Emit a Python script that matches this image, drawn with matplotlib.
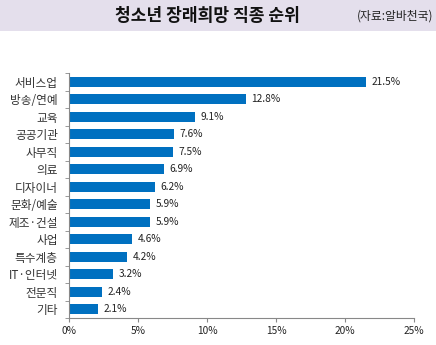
import matplotlib
matplotlib.use("Agg")
import matplotlib.pyplot as plt
from matplotlib.patches import Rectangle

plt.rcParams['font.family'] = ['Noto Sans CJK KR', 'DejaVu Sans']

# data
jobs = ["서비스업", "방송/연예", "교육", "공공기관", "사무직", "의료", "디자이너",
        "문화/예술", "제조·건설", "사업", "특수계층", "IT·인터넷", "전문직", "기타"]
shares = [21.5, 12.8, 9.1, 7.6, 7.5, 6.9, 6.2, 5.9, 5.9, 4.6, 4.2, 3.2, 2.4, 2.1]
xticks = [0, 5, 10, 15, 20, 25]

fig = plt.figure(figsize=(4.36, 3.45), dpi=100)

# title band
fig.patches.append(Rectangle((0, 1 - 31 / 345), 1, 31 / 345, transform=fig.transFigure,
                             facecolor="#E4DFEC", edgecolor="none", zorder=0))
fig.text(0.475, 0.953, "청소년 장래희망 직종 순위", ha="center", va="center",
         fontsize=12.3, fontweight="bold", color="#111111")
fig.text(0.993, 0.953, "(자료:알바천국)", ha="right", va="center",
         fontsize=8.5, color="#222222")

ax = fig.add_axes([69 / 436, 27 / 345, 345 / 436, 245 / 345])
pos = list(range(len(jobs)))
ax.barh(pos, shares, height=0.55, color="#0070C0")
for p, v in zip(pos, shares):
    ax.text(v + 0.4, p, f"{v}%", va="center", ha="left", fontsize=7.3, color="#222222")

ax.set_ylim(len(jobs) - 0.5, -0.5)
ax.set_xlim(0, 25)
ax.set_xticks(xticks)
ax.set_xticklabels([f"{t}%" for t in xticks], fontsize=7.3, color="#222222")
ax.set_yticks(pos)
ax.set_yticklabels(jobs, fontsize=8.4, color="#333333")
ax.set_yticks([p + 0.5 for p in [-1] + pos], minor=True)
ax.tick_params(axis="y", which="major", length=0, pad=8)
ax.tick_params(axis="y", which="minor", length=3, color="#888888")
ax.tick_params(axis="x", length=3, color="#888888", pad=3)

for s in ["top", "right"]:
    ax.spines[s].set_visible(False)
for s in ["left", "bottom"]:
    ax.spines[s].set_color("#888888")
    ax.spines[s].set_linewidth(0.8)

fig.savefig("out.png", dpi=100)
